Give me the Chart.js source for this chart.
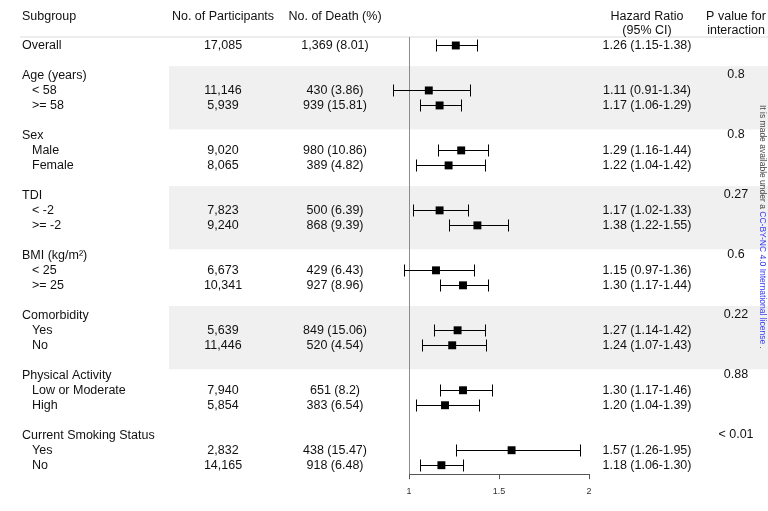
<!DOCTYPE html>
<html>
<head>
<meta charset="utf-8">
<title>Forest plot</title>
<script src="https://cdn.jsdelivr.net/npm/chart.js@4/dist/chart.umd.min.js"></script>
<style>
    html, body { margin: 0; padding: 0; background: #fff; }
    #wrap { width: 768px; height: 511px; position: relative; }
</style>
</head>
<body>
<div id="wrap"><canvas id="forest"></canvas></div>
<script>
// Subgroup headers and their interaction p values
const groupNames = ['Age (years)', 'Sex', 'TDI', 'BMI (kg/m\u00B2)', 'Comorbidity', 'Physical Activity', 'Current Smoking Status'];
const pInteraction = ['0.8', '0.8', '0.27', '0.6', '0.22', '0.88', '< 0.01'];

// One entry per estimate row (-1 = overall, otherwise index into groupNames)
const rowLabels = ['Overall', '< 58', '>= 58', 'Male', 'Female', '< -2', '>= -2', '< 25', '>= 25',
    'Yes', 'No', 'Low or Moderate', 'High', 'Yes', 'No'];
const rowGroup = [-1, 0, 0, 1, 1, 2, 2, 3, 3, 4, 4, 5, 5, 6, 6];
const participants = ['17,085', '11,146', '5,939', '9,020', '8,065', '7,823', '9,240', '6,673', '10,341',
    '5,639', '11,446', '7,940', '5,854', '2,832', '14,165'];
const deaths = ['1,369 (8.01)', '430 (3.86)', '939 (15.81)', '980 (10.86)', '389 (4.82)', '500 (6.39)',
    '868 (9.39)', '429 (6.43)', '927 (8.96)', '849 (15.06)', '520 (4.54)', '651 (8.2)', '383 (6.54)',
    '438 (15.47)', '918 (6.48)'];
const hazard = [1.26, 1.11, 1.17, 1.29, 1.22, 1.17, 1.38, 1.15, 1.30, 1.27, 1.24, 1.30, 1.20, 1.57, 1.18];
const ciLow = [1.15, 0.91, 1.06, 1.16, 1.04, 1.02, 1.22, 0.97, 1.17, 1.14, 1.07, 1.17, 1.04, 1.26, 1.06];
const ciHigh = [1.38, 1.34, 1.29, 1.44, 1.42, 1.33, 1.55, 1.36, 1.44, 1.42, 1.43, 1.46, 1.39, 1.95, 1.30];

const xTicks = [1, 1.5, 2];
const xTickLabels = ['1', '1.5', '2'];

// table rows: overall on line 0, each group takes a header line + its levels + a blank line
const groupRow = groupNames.map((_, g) => 2 + 4 * g);
const rowY = [];
const levelCount = {};
rowGroup.forEach((g) => {
    if (g < 0) { rowY.push(0); return; }
    levelCount[g] = (levelCount[g] || 0) + 1;
    rowY.push(groupRow[g] + levelCount[g]);
});

const FONT = '"Liberation Sans", Arial, Helvetica, sans-serif';
const TEXT = '#111';
const shadedGroups = new Set(['Age (years)', 'TDI', 'Comorbidity']);

const forestTable = {
    id: 'forestTable',
    beforeDraw(chart) {
        const { ctx } = chart;
        const ys = chart.scales.y;
        ctx.save();
        ctx.fillStyle = '#f0f0f0';
        groupNames.forEach((name, g) => {
            if (!shadedGroups.has(name)) return;
            const top = ys.getPixelForValue(groupRow[g] - 0.62);
            const bottom = ys.getPixelForValue(groupRow[g] + 3.6);
            ctx.fillRect(169, top, chart.width - 169, bottom - top);
        });
        // faint rule under the header
        ctx.fillStyle = '#ededed';
        ctx.fillRect(20, 36, chart.width - 20, 2);
        ctx.restore();
    },
    beforeDatasetsDraw(chart) {
        const { ctx } = chart;
        const xs = chart.scales.x;
        const ys = chart.scales.y;
        ctx.save();
        // no-effect line at HR = 1
        const x1 = Math.round(xs.getPixelForValue(1)) + 0.5;
        ctx.strokeStyle = '#8c8c8c';
        ctx.lineWidth = 1;
        ctx.beginPath();
        ctx.moveTo(x1, 37);
        ctx.lineTo(x1, chart.chartArea.bottom);
        ctx.stroke();

        // confidence intervals with end caps
        ctx.strokeStyle = '#000';
        hazard.forEach((_, i) => {
            const y = Math.round(ys.getPixelForValue(rowY[i])) + 0.5;
            const a = Math.round(xs.getPixelForValue(ciLow[i])) + 0.5;
            const b = Math.round(xs.getPixelForValue(ciHigh[i])) + 0.5;
            ctx.beginPath();
            ctx.moveTo(a, y); ctx.lineTo(b, y);
            ctx.moveTo(a, y - 6); ctx.lineTo(a, y + 6);
            ctx.moveTo(b, y - 6); ctx.lineTo(b, y + 6);
            ctx.stroke();
        });
        ctx.restore();
    },
    afterDraw(chart) {
        const { ctx } = chart;
        const ys = chart.scales.y;
        const colSub = 22, colSubIndent = 32, colN = 223, colD = 335, colHR = 647, colP = 736;
        ctx.save();
        ctx.font = '12.5px ' + FONT;
        ctx.fillStyle = TEXT;
        ctx.textBaseline = 'middle';

        const put = (txt, x, v, align) => {
            ctx.textAlign = align;
            ctx.fillText(txt, x, ys.getPixelForValue(v));
        };

        // column headers
        put('Subgroup', colSub, -1.93, 'left');
        put('No. of Participants', colN, -1.93, 'center');
        put('No. of Death (%)', colD, -1.93, 'center');
        put('Hazard Ratio', colHR, -1.93, 'center');
        put('(95% CI)', colHR, -0.97, 'center');
        put('P value for', colP, -1.93, 'center');
        put('interaction', colP, -0.97, 'center');

        groupNames.forEach((name, g) => {
            put(name, colSub, groupRow[g], 'left');
            put(pInteraction[g], colP, groupRow[g] - 0.05, 'center');
        });

        rowLabels.forEach((label, i) => {
            put(label, rowGroup[i] < 0 ? colSub : colSubIndent, rowY[i], 'left');
            put(participants[i], colN, rowY[i], 'center');
            put(deaths[i], colD, rowY[i], 'center');
            const hrText = hazard[i].toFixed(2) + ' (' + ciLow[i].toFixed(2) + '-' + ciHigh[i].toFixed(2) + ')';
            put(hrText, colHR, rowY[i], 'center');
        });
        ctx.restore();

        // preprint licence note running down the right edge
        ctx.save();
        ctx.translate(762, 105);
        ctx.rotate(Math.PI / 2);
        ctx.font = '8.5px ' + FONT;
        ctx.textBaseline = 'middle';
        ctx.textAlign = 'left';
        const p1 = 'It is made available under a ';
        const p2 = 'CC-BY-NC 4.0 International license';
        ctx.fillStyle = '#444';
        ctx.fillText(p1, 0, 0);
        let w = ctx.measureText(p1).width;
        ctx.fillStyle = '#3b3bf5';
        ctx.fillText(p2, w, 0);
        w += ctx.measureText(p2).width;
        ctx.fillStyle = '#444';
        ctx.fillText(' .', w, 0);
        ctx.restore();
    }
};

new Chart(document.getElementById('forest'), {
    type: 'scatter',
    data: {
        datasets: [{
            data: hazard.map((v, i) => ({ x: v, y: rowY[i] })),
            pointStyle: 'rect',
            pointRadius: 5.6,
            pointHoverRadius: 5.6,
            backgroundColor: '#000',
            borderWidth: 0,
            clip: false
        }]
    },
    options: {
        responsive: true,
        maintainAspectRatio: false,
        animation: false,
        events: [],
        layout: { padding: { left: 409, right: 179, top: 8, bottom: 7 } },
        plugins: {
            legend: { display: false },
            tooltip: { enabled: false }
        },
        scales: {
            x: {
                type: 'linear',
                min: 1,
                max: 2,
                afterBuildTicks: (axis) => { axis.ticks = xTicks.map(v => ({ value: v })); },
                grid: { drawOnChartArea: false, tickLength: 5, color: '#555' },
                border: { display: true, color: '#555' },
                ticks: {
                    color: '#333',
                    padding: 7,
                    maxRotation: 0,
                    font: { size: 9, family: FONT },
                    callback: (value, index) => xTickLabels[index]
                }
            },
            y: {
                type: 'linear',
                display: false,
                reverse: true,
                min: -2.5,
                max: 28.6
            }
        }
    },
    plugins: [forestTable]
});
</script>
</body>
</html>
